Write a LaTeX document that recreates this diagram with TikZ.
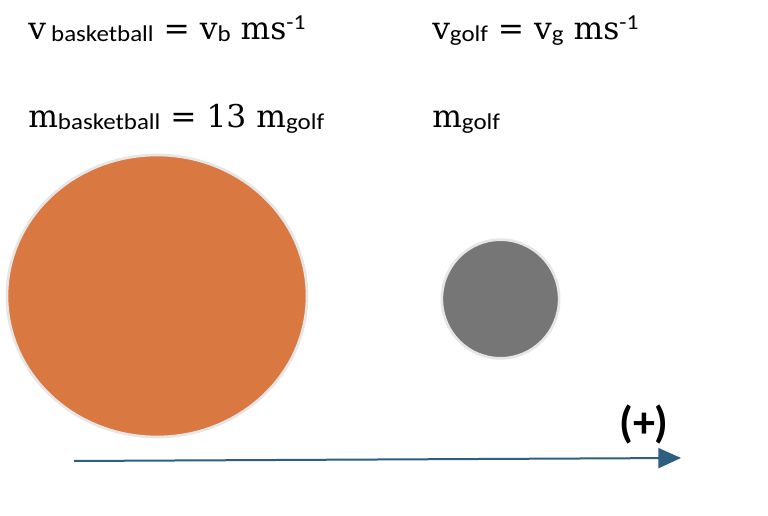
\documentclass[tikz,border=0pt]{standalone}
\usepackage{fontspec}
\setmainfont{DejaVu Serif}
\newfontfamily\subf[FakeStretch=1.1]{Carlito}
\newfontfamily\plusf{Carlito}
\usetikzlibrary{arrows.meta,shapes.geometric}
\definecolor{ballorange}{HTML}{D97941}
\definecolor{ballgrey}{HTML}{767676}
\definecolor{rimgrey}{HTML}{E6E6E6}
\definecolor{arrowblue}{HTML}{2F5F80}
\newcommand{\mainsz}{\fontsize{23.5pt}{27pt}\selectfont}
\newcommand{\lowtxt}[1]{\raisebox{-1.5pt}{\subf\fontsize{17pt}{19pt}\selectfont #1}}
\newcommand{\uptxt}[1]{\raisebox{7.5pt}{\subf\fontsize{16pt}{18pt}\selectfont #1}}
\begin{document}
\begin{tikzpicture}[x=0.75pt,y=-0.75pt,
  ball/.style={draw=rimgrey,line width=2pt},
  eqn/.style={anchor=base west,inner sep=0pt,font=\mainsz}]
\useasboundingbox (0,0) rectangle (768,516);
\fill[white] (0,0) rectangle (768,516);
\node[eqn] (vb) at (28,40) {v\,\lowtxt{basketball} = v\lowtxt{b} ms\uptxt{-1}};
\node[eqn] (mb) at (28,128) {m\lowtxt{basketball} = 13 m\lowtxt{golf}};
\node[eqn] (vg) at (432,40) {v\lowtxt{golf} = v\lowtxt{g} ms\uptxt{-1}};
\node[eqn] (mg) at (432,128) {m\lowtxt{golf}};
\draw[ball,fill=ballorange] (157,296) ellipse [x radius=150, y radius=141];
\node[ball,fill=ballgrey,ellipse,minimum width=88pt,minimum height=89pt,inner sep=0pt] (golf) at (500.5,299) {};
\coordinate (a) at (74,461);
\coordinate (b) at (681,458);
\draw[arrowblue,line width=1.5pt,-{Triangle[length=17pt,width=15pt]}] (a) -- (b);
\node[anchor=base,inner sep=0pt,font=\plusf\bfseries\fontsize{33pt}{36pt}\selectfont] (plus) at (644,438) {(+)};
\end{tikzpicture}
\end{document}
